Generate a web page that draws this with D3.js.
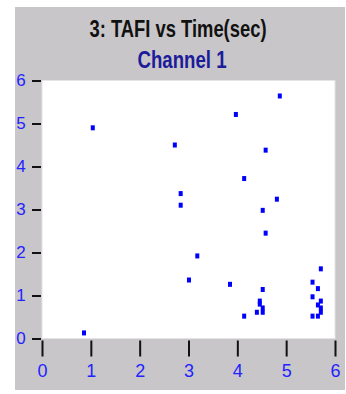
<!DOCTYPE html>
<html>
<head>
<meta charset="utf-8">
<script src="https://cdn.jsdelivr.net/npm/d3@7"></script>
<style>
  body { margin: 0; background: #fff; }
  text { font-family: "Liberation Sans Narrow", "Liberation Sans", Arial, sans-serif; }
</style>
</head>
<body>
<svg id="chart"></svg>
<script>
// TAFI vs time, channel 1
const timeSec = [1.04, 0.86, 4.87, 3.97, 2.72, 4.58, 4.14, 2.84, 2.84, 4.81,
  4.52, 4.58, 3.18, 3.01, 3.85,
  5.71, 5.54, 5.65, 5.54, 5.71, 5.65, 5.71, 5.71, 5.54, 5.65,
  4.52, 4.46, 4.46, 4.52, 4.52, 4.40, 4.14];
const tafi = [4.90, 0.13, 5.64, 5.21, 4.50, 4.38, 3.72, 3.37, 3.10, 3.24,
  2.98, 2.45, 1.92, 1.36, 1.26,
  1.62, 1.31, 1.16, 0.97, 0.87, 0.78, 0.71, 0.61, 0.52, 0.52,
  1.14, 0.87, 0.80, 0.71, 0.61, 0.61, 0.52];
const xTicks = [0, 1, 2, 3, 4, 5, 6];
const yTicks = [0, 1, 2, 3, 4, 5, 6];
const title = "3: TAFI vs Time(sec)";
const subtitle = "Channel 1";

const W = 346, H = 394;
const plot = { left: 42, top: 80.5, right: 335, bottom: 338.5 };

const svg = d3.select("#chart").attr("width", W).attr("height", H);

svg.append("rect")
  .attr("x", 15).attr("y", 7)
  .attr("width", 330).attr("height", 383)
  .attr("fill", "#c8c6c8");

svg.append("rect")
  .attr("x", plot.left).attr("y", plot.top)
  .attr("width", plot.right - plot.left).attr("height", plot.bottom - plot.top)
  .attr("fill", "#fff")
  .attr("stroke", "#e4e4e4")
  .attr("stroke-width", 1);

const x = d3.scaleLinear().domain([0, 6]).range([plot.left, plot.right]);
const y = d3.scaleLinear().domain([0, 6]).range([plot.bottom, plot.top]);

svg.append("text")
  .attr("x", 178).attr("y", 37)
  .attr("text-anchor", "middle")
  .attr("font-size", 24).attr("font-weight", "bold")
  .attr("fill", "#111")
  .attr("textLength", 177).attr("lengthAdjust", "spacingAndGlyphs")
  .text(title);

svg.append("text")
  .attr("x", 182).attr("y", 68)
  .attr("text-anchor", "middle")
  .attr("font-size", 24).attr("font-weight", "bold")
  .attr("fill", "#1c1c9a")
  .attr("textLength", 89).attr("lengthAdjust", "spacingAndGlyphs")
  .text(subtitle);

// y axis
const yAxis = svg.append("g")
  .attr("transform", `translate(${plot.left - 1},0)`)
  .call(d3.axisLeft(y).tickValues(yTicks).tickSize(9).tickPadding(10).tickFormat(d3.format("d")));
yAxis.select(".domain").remove();
yAxis.selectAll(".tick line").attr("stroke", "#111").attr("stroke-width", 2);
yAxis.selectAll(".tick text")
  .attr("fill", "#2323ff").attr("font-size", 17)
  .attr("font-family", "Liberation Sans Narrow, Liberation Sans, sans-serif")
  .attr("text-anchor", "middle").attr("x", -20);

// x axis
const xAxis = svg.append("g")
  .attr("transform", `translate(0,${plot.bottom + 2})`)
  .call(d3.axisBottom(x).tickValues(xTicks).tickSize(16).tickPadding(8).tickFormat(d3.format("d")));
xAxis.select(".domain").remove();
xAxis.selectAll(".tick line").attr("stroke", "#111").attr("stroke-width", 2);
xAxis.selectAll(".tick text")
  .attr("fill", "#2323ff").attr("font-size", 18)
  .attr("font-family", "Liberation Sans Narrow, Liberation Sans, sans-serif");

// points
svg.append("g")
  .selectAll("rect")
  .data(timeSec)
  .join("rect")
  .attr("x", (d) => x(d) - 2)
  .attr("y", (d, i) => y(tafi[i]) - 2.5)
  .attr("width", 4)
  .attr("height", 5)
  .attr("fill", "#0000ff");
</script>
</body>
</html>
